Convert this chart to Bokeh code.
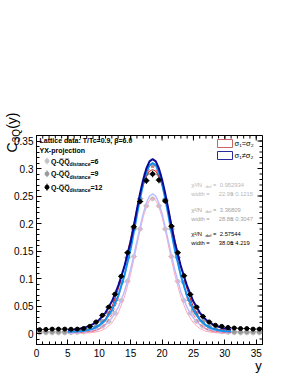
import numpy as np
from bokeh.plotting import figure
from bokeh.models import Range1d, Label, FixedTicker
from bokeh.embed import file_html
from bokeh.resources import INLINE

# ---------------- data ----------------
bin_x = [0.5, 1.5, 2.5, 3.5, 4.5, 5.5, 6.5, 7.5, 8.5, 9.5, 10.5, 11.5,
         12.5, 13.5, 14.5, 15.5, 16.5, 17.5, 18.5, 19.5, 20.5, 21.5, 22.5, 23.5,
         24.5, 25.5, 26.5, 27.5, 28.5, 29.5, 30.5, 31.5, 32.5, 33.5, 34.5, 35.5]
bin_half = 0.5

c3q_d6 = [0.001, 0.001, 0.001, 0.001, 0.001, 0.0015, 0.002, 0.003, 0.005, 0.008, 0.013, 0.022,
          0.037, 0.060, 0.095, 0.140, 0.190, 0.232, 0.245, 0.232, 0.190, 0.140, 0.095, 0.060,
          0.037, 0.022, 0.013, 0.008, 0.005, 0.003, 0.002, 0.0015, 0.001, 0.001, 0.001, 0.001]
c3q_d9 = [0.003, 0.003, 0.003, 0.003, 0.003, 0.003, 0.004, 0.005, 0.008, 0.013, 0.022, 0.037,
          0.060, 0.093, 0.138, 0.190, 0.245, 0.290, 0.306, 0.289, 0.244, 0.190, 0.138, 0.093,
          0.060, 0.037, 0.022, 0.013, 0.008, 0.005, 0.004, 0.003, 0.003, 0.003, 0.003, 0.003]
c3q_d12 = [0.007, 0.0075, 0.008, 0.008, 0.008, 0.0078, 0.008, 0.009, 0.013, 0.021, 0.033, 0.048,
           0.0715, 0.104, 0.147, 0.194, 0.240, 0.278, 0.290, 0.279, 0.241, 0.195, 0.147, 0.105,
           0.071, 0.048, 0.031, 0.021, 0.015, 0.013, 0.011, 0.010, 0.009, 0.009, 0.008, 0.008]
err_d6 = [0.001, 0.001, 0.001, 0.001, 0.001, 0.001, 0.001, 0.001, 0.001, 0.001, 0.001, 0.001,
          0.002, 0.002, 0.002, 0.002, 0.003, 0.003, 0.003, 0.003, 0.003, 0.002, 0.002, 0.002,
          0.002, 0.001, 0.001, 0.001, 0.001, 0.001, 0.001, 0.001, 0.001, 0.001, 0.001, 0.001]
err_d9 = [0.001, 0.001, 0.001, 0.001, 0.001, 0.001, 0.001, 0.001, 0.001, 0.001, 0.002, 0.002,
          0.002, 0.003, 0.003, 0.003, 0.004, 0.004, 0.004, 0.004, 0.004, 0.003, 0.003, 0.003,
          0.002, 0.002, 0.002, 0.001, 0.001, 0.001, 0.001, 0.001, 0.001, 0.001, 0.001, 0.001]
err_d12 = [0.002, 0.002, 0.002, 0.002, 0.002, 0.002, 0.002, 0.002, 0.002, 0.002, 0.002, 0.003,
           0.003, 0.004, 0.004, 0.005, 0.005, 0.006, 0.006, 0.006, 0.005, 0.005, 0.004, 0.004,
           0.003, 0.003, 0.002, 0.002, 0.002, 0.002, 0.002, 0.002, 0.002, 0.002, 0.002, 0.002]

fit_x = [5, 6, 7, 8, 9, 10, 11, 12, 13, 14, 15, 15.5, 16, 16.5, 17, 17.5, 18, 18.5,
         19, 19.5, 20, 20.5, 21, 21.5, 22, 23, 24, 25, 26, 27, 28, 29, 30, 31]
fit_ne_d12 = [0.007, 0.0075, 0.009, 0.012, 0.017, 0.025, 0.038, 0.058, 0.086, 0.122, 0.167,
              0.195, 0.226, 0.255, 0.280, 0.300, 0.313, 0.317,
              0.313, 0.300, 0.280, 0.255, 0.226, 0.195, 0.167,
              0.122, 0.086, 0.058, 0.038, 0.025, 0.017, 0.012, 0.009, 0.0075]
fit_ne_d9 = [0.003, 0.0035, 0.004, 0.006, 0.009, 0.015, 0.025, 0.042, 0.068, 0.105, 0.154,
             0.184, 0.216, 0.246, 0.272, 0.293, 0.306, 0.310,
             0.306, 0.293, 0.272, 0.246, 0.216, 0.184, 0.154,
             0.105, 0.068, 0.042, 0.025, 0.015, 0.009, 0.006, 0.004, 0.0035]
fit_eq_d12 = [0.006, 0.006, 0.0065, 0.007, 0.009, 0.015, 0.027, 0.048, 0.080, 0.122, 0.173,
              0.200, 0.226, 0.250, 0.270, 0.286, 0.295, 0.298,
              0.295, 0.286, 0.270, 0.250, 0.226, 0.200, 0.173,
              0.122, 0.080, 0.048, 0.027, 0.015, 0.009, 0.007, 0.0065, 0.006]
fit_eq_d9 = [0.002, 0.002, 0.002, 0.003, 0.004, 0.008, 0.017, 0.034, 0.063, 0.106, 0.161,
             0.191, 0.220, 0.247, 0.270, 0.288, 0.299, 0.303,
             0.299, 0.288, 0.270, 0.247, 0.220, 0.191, 0.161,
             0.106, 0.063, 0.034, 0.017, 0.008, 0.004, 0.003, 0.002, 0.002]
fit_ne_d6 = [0.001, 0.0015, 0.002, 0.003, 0.005, 0.009, 0.016, 0.028, 0.047, 0.076, 0.117,
             0.142, 0.168, 0.194, 0.218, 0.237, 0.250, 0.254,
             0.250, 0.237, 0.218, 0.194, 0.168, 0.142, 0.117,
             0.076, 0.047, 0.028, 0.016, 0.009, 0.005, 0.003, 0.002, 0.0015]
fit_eq_d6 = [0.0005, 0.0005, 0.0005, 0.001, 0.002, 0.004, 0.009, 0.019, 0.037, 0.066, 0.108,
             0.134, 0.161, 0.188, 0.212, 0.230, 0.242, 0.246,
             0.242, 0.230, 0.212, 0.188, 0.161, 0.134, 0.108,
             0.066, 0.037, 0.019, 0.009, 0.004, 0.002, 0.001, 0.0005, 0.0005]

x_ticks = [0, 5, 10, 15, 20, 25, 30, 35]
x_minor = list(range(0, 37))
y_ticks = [0, 0.05, 0.1, 0.15, 0.2, 0.25, 0.3, 0.35]
y_tick_labels = ["0", "0.05", "0.1", "0.15", "0.2", "0.25", "0.3", "0.35"]
y_minor = [round(-0.02 + 0.01 * i, 2) for i in range(39)]

distances = ["6", "9", "12"]
chi2_ndof = ["0.952934", "3.36809", "2.57544"]
width_val = ["22.99", "28.86", "38.06"]
width_err = ["0.1215", "0.3047", "4.219"]

# ---------------- layout helpers (page pixel -> data) ----------------
X0, X1, Y0, Y1 = 0.0, 36.0, -0.02, 0.36
FL, FT, FW, FH = 36.0, 135.0, 226.0, 209.0
def dx(px):
    return X0 + (px - FL) / FW * (X1 - X0)
def dy(py):
    return Y1 - (py - FT) / FH * (Y1 - Y0)
def lx(n):
    return n / FW * (X1 - X0)
def ly(n):
    return n / FH * (Y1 - Y0)

FONT = "Liberation Sans"
pt_cols = ["#c4c4c4", "#9a9a9a", "#000000"]
txt_cols = ["#b8b8b8", "#a2a2a2", "#000000"]

p = figure(width=281, height=374, x_range=Range1d(X0, X1), y_range=Range1d(Y0, Y1),
           output_backend="svg", toolbar_location=None,
           min_border_left=36, min_border_right=19, min_border_top=135, min_border_bottom=30)
p.grid.visible = False
p.outline_line_color = "black"
p.outline_line_width = 1
p.background_fill_color = "white"
p.border_fill_color = "white"

p.xaxis.ticker = FixedTicker(ticks=x_ticks, minor_ticks=x_minor)
p.yaxis.ticker = FixedTicker(ticks=y_ticks, minor_ticks=y_minor)
p.yaxis.major_label_overrides = {t: l for t, l in zip(y_ticks, y_tick_labels)}
for ax in [p.xaxis[0], p.yaxis[0]]:
    ax.major_tick_in = 5
    ax.major_tick_out = 0
    ax.minor_tick_in = 3
    ax.minor_tick_out = 0
    ax.axis_line_color = "black"
    ax.major_tick_line_color = "black"
    ax.minor_tick_line_color = "black"
    ax.major_label_text_font = FONT
    ax.major_label_text_font_size = "10px"
    ax.major_label_text_color = "black"
p.xaxis[0].major_label_standoff = 4
p.yaxis[0].major_label_standoff = 3

# ticks on the top and right frame edges (ROOT style)
nx, nxm, ny, nym = len(x_ticks), len(x_minor), len(y_ticks), len(y_minor)
p.segment(x0=x_ticks, x1=x_ticks, y0=[Y1] * nx, y1=[Y1 - ly(5)] * nx, line_color="black", line_width=1)
p.segment(x0=x_minor, x1=x_minor, y0=[Y1] * nxm, y1=[Y1 - ly(3)] * nxm, line_color="black", line_width=1)
p.segment(x0=[X1] * ny, x1=[X1 - lx(5)] * ny, y0=y_ticks, y1=y_ticks, line_color="black", line_width=1)
p.segment(x0=[X1] * nym, x1=[X1 - lx(3)] * nym, y0=y_minor, y1=y_minor, line_color="black", line_width=1)

# ---------------- data points (gray series first) ----------------
series = [(c3q_d6, err_d6), (c3q_d9, err_d9), (c3q_d12, err_d12)]
bx = np.array(bin_x)
def draw_points(i):
    y, e = np.array(series[i][0]), np.array(series[i][1])
    col = pt_cols[i]
    p.segment(x0=bx - bin_half, x1=bx + bin_half, y0=y, y1=y, line_color=col, line_width=1)
    p.segment(x0=bx, x1=bx, y0=y - e, y1=y + e, line_color=col, line_width=1)
    p.scatter(bx, y, size=4, marker="circle", fill_color=col, line_color=col)

draw_points(0)
draw_points(1)

# ---------------- fit curves ----------------
p.line(fit_x, fit_eq_d6, line_color="#ffa8bc", line_width=1)
p.line(fit_x, fit_ne_d6, line_color="#bcbcff", line_width=1.5)
p.line(fit_x, fit_eq_d9, line_color="#ff6060", line_width=1, line_dash="4 2")
p.line(fit_x, fit_eq_d12, line_color="#c02828", line_width=1)
p.line(fit_x, fit_ne_d9, line_color="#1090f0", line_width=2)
p.line(fit_x, fit_ne_d12, line_color="#0a0a96", line_width=2)

draw_points(2)

# ---------------- texts ----------------
def lab(px, py, text, size, color="black", bold=False, align="left", angle=0.0, place=None):
    l = Label(x=dx(px), y=dy(py), text=text, text_font=FONT,
              text_font_size=f"{size}px", text_color=color,
              text_font_style="bold" if bold else "normal",
              text_align=align, text_baseline="middle", angle=angle)
    if place is None:
        p.add_layout(l)
    else:
        p.add_layout(l, place)

lab(39, 139.5, "Lattice data: T/Tc=0.9, \u03b2=6.0", 7, bold=True)
lab(39, 149.5, "YX-projection", 7, bold=True)

leg_y = [160.5, 173.3, 186.7]
for i in range(3):
    yy = leg_y[i]
    col = pt_cols[i]
    p.segment(x0=[dx(46.5)], x1=[dx(46.5)], y0=[dy(yy + 3.5)], y1=[dy(yy - 3.5)], line_color=col)
    p.scatter([dx(46.5)], [dy(yy)], size=4, fill_color=col, line_color=col)
    lab(50.5, yy, "Q-Q\u0305Q\u0305", 7, bold=True)
    lab(69, yy + 3.2, "distance", 5.2, bold=True)
    lab(90, yy, "=" + distances[i], 7, bold=True)

stat_y = [184.3, 209.3, 233.3]
for i in range(3):
    yy = stat_y[i]
    c = txt_cols[i]
    lab(190.7, yy, "\u03c7\u00b2/N", 5.8, color=c)
    lab(205, yy + 2, "dof", 4.2, color=c)
    lab(212.5, yy, "=", 5.8, color=c)
    lab(219.3, yy, chi2_ndof[i], 5.8, color=c)
    lab(190.7, yy + 9.5, "width =", 5.8, color=c)
    lab(218.3, yy + 9.5, width_val[i], 5.8, color=c)
    lab(230, yy + 9.5, "\u00b1 " + width_err[i], 5.8, color=c)

# legend boxes (top right)
p.quad(left=[dx(217)], right=[dx(232)], top=[dy(139)], bottom=[dy(147)],
       fill_color="white", line_color="#c86464", line_width=1)
p.quad(left=[dx(217)], right=[dx(232)], top=[dy(151)], bottom=[dy(159)],
       fill_color="white", line_color="#2a2a9a", line_width=1)
lab(234, 143, "\u03c3\u2081=\u03c3\u2082", 7.5)
lab(234, 155, "\u03c3\u2081\u2260\u03c3\u2082", 7.5)

# axis titles (outside the frame: placed in the roomy top panel so they are not clipped)
lab(11.5, 152, "C", 14, angle=np.pi / 2, place="above")
lab(15.5, 141.8, "3Q", 10, angle=np.pi / 2, place="above")
lab(11.5, 128.3, "(y)", 14, angle=np.pi / 2, place="above")
lab(258, 365, "y", 13, align="center", place="above")

open("out.html", "w").write(file_html(p, INLINE))
